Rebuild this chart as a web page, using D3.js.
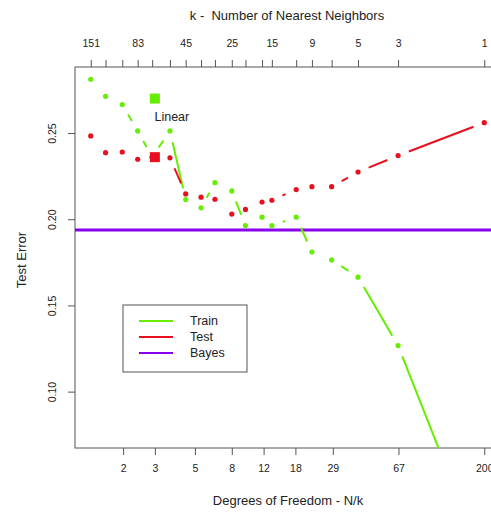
<!DOCTYPE html>
<html>
<head>
<meta charset="utf-8">
<script src="https://cdn.jsdelivr.net/npm/d3@7"></script>
<style>
  body { margin: 0; background: #fff; }
  svg { display: block; font-family: "Liberation Sans", Arial, sans-serif; }
  text { white-space: pre; }
</style>
</head>
<body>
<svg id="chart" width="491" height="512"></svg>
<script>
// training set size and neighbourhood sizes
const N = 200;
const kValues = [151, 125, 101, 83, 69, 55, 45, 37, 31, 25, 21, 17, 15, 11, 9, 7, 5, 3, 1];
const trainError = [0.2812, 0.2713, 0.2665, 0.2512, 0.2361, 0.2512, 0.2114, 0.2066, 0.2212, 0.2164,
                    0.1963, 0.2012, 0.1963, 0.2012, 0.1810, 0.1764, 0.1664, 0.1267, 0.0];
const testError = [0.2483, 0.2386, 0.2390, 0.2348, 0.2360, 0.2356, 0.2147, 0.2128, 0.2116, 0.2030,
                   0.2057, 0.2100, 0.2110, 0.2172, 0.2189, 0.2189, 0.2274, 0.2369, 0.2560];
const bayesError = 0.1938;
const linearDf = 3;
const linearTrain = 0.270;
const linearTest = 0.236;
const topLabels = [151, 83, 45, 25, 15, 9, 5, 3, 1];
const bottomTicks = [2, 3, 5, 8, 12, 18, 29, 67, 200];
const yTicks = [0.10, 0.15, 0.20, 0.25];

const colTrain = '#66ee00', colTest = '#e8101e', colBayes = '#8800ee';

const margin = {top: 67, right: -9, bottom: 64, left: 75};
const width = 491, height = 512;
const svg = d3.select('#chart');

const dfs = kValues.map(k => N / k);
const lo = Math.log(d3.min(dfs)), hi = Math.log(d3.max(dfs));
const pad = (hi - lo) * 0.04;
const x = d3.scaleLog()
  .domain([Math.exp(lo - pad), Math.exp(hi + pad)])
  .range([margin.left, width - margin.right]);
const y = d3.scaleLinear()
  .domain([0.0673, 0.2883])
  .range([height - margin.bottom, margin.top]);

const x0 = margin.left, x1 = width - margin.right;
const y0 = margin.top, y1 = height - margin.bottom;

svg.append('clipPath').attr('id', 'plotclip')
  .append('rect').attr('x', x0).attr('y', y0).attr('width', x1 - x0).attr('height', y1 - y0);

// frame
svg.append('rect')
  .attr('x', x0).attr('y', y0).attr('width', x1 - x0).attr('height', y1 - y0)
  .attr('fill', 'none').attr('stroke', '#555').attr('stroke-width', 1);

const axisStyle = g => {
  g.select('.domain').remove();
  g.selectAll('line').attr('stroke', '#555');
  g.selectAll('text').attr('fill', '#222').style('font-size', '10.5px');
};

// bottom axis: degrees of freedom
svg.append('g')
  .attr('transform', `translate(0,${y1})`)
  .call(d3.axisBottom(x).tickValues(bottomTicks).tickFormat(d3.format('d')).tickSize(7).tickPadding(10))
  .call(axisStyle);

// top axis: k
svg.append('g')
  .attr('transform', `translate(0,${y0})`)
  .call(d3.axisTop(x).tickValues(dfs).tickSize(7).tickPadding(13)
    .tickFormat((d, i) => topLabels.includes(kValues[i]) ? kValues[i] : ''))
  .call(axisStyle);

// left axis, labels turned parallel to the axis
svg.append('g')
  .attr('transform', `translate(${x0},0)`)
  .call(d3.axisLeft(y).tickValues(yTicks).tickFormat(d3.format('.2f')).tickSize(7))
  .call(axisStyle)
  .selectAll('text')
  .attr('x', 0).attr('y', 0).attr('dy', '0.35em')
  .attr('transform', 'translate(-23,0) rotate(-90)')
  .attr('text-anchor', 'middle');

// axis titles
svg.append('text').attr('x', 287).attr('y', 20).attr('text-anchor', 'middle')
  .style('font-size', '13px').attr('fill', '#222').text('k -  Number of Nearest Neighbors');
svg.append('text').attr('x', 288).attr('y', 505).attr('text-anchor', 'middle')
  .style('font-size', '13px').attr('fill', '#222').text('Degrees of Freedom - N/k');
svg.append('text').attr('transform', 'translate(26,260) rotate(-90)').attr('text-anchor', 'middle')
  .style('font-size', '13px').attr('fill', '#222').text('Test Error');

const plot = svg.append('g').attr('clip-path', 'url(#plotclip)');

// Bayes rate
plot.append('line')
  .attr('x1', x0).attr('x2', x1)
  .attr('y1', y(bayesError)).attr('y2', y(bayesError))
  .attr('stroke', colBayes).attr('stroke-width', 3);

// points joined by lines with a gap around each point
const gap = 11.5;
function drawSeries(values, color) {
  const pts = dfs.map((d, i) => [x(d), y(values[i])]);
  const segs = [];
  for (let i = 0; i < pts.length - 1; i++) {
    const [ax, ay] = pts[i], [bx, by] = pts[i + 1];
    const len = Math.hypot(bx - ax, by - ay);
    if (len <= 2 * gap) continue;
    const ux = (bx - ax) / len, uy = (by - ay) / len;
    segs.push([ax + ux * gap, ay + uy * gap, bx - ux * gap, by - uy * gap]);
  }
  plot.append('g').selectAll('line').data(segs).join('line')
    .attr('x1', s => s[0]).attr('y1', s => s[1])
    .attr('x2', s => s[2]).attr('y2', s => s[3])
    .attr('stroke', color).attr('stroke-width', 2);
  plot.append('g').selectAll('circle').data(pts).join('circle')
    .attr('cx', p => p[0]).attr('cy', p => p[1]).attr('r', 2.6)
    .attr('fill', color);
}
drawSeries(trainError, colTrain);
drawSeries(testError, colTest);

// linear regression result
const sq = 10;
plot.append('rect').attr('x', x(linearDf) - sq / 2).attr('y', y(linearTrain) - sq / 2)
  .attr('width', sq).attr('height', sq).attr('fill', colTrain);
plot.append('rect').attr('x', x(linearDf) - sq / 2).attr('y', y(linearTest) - sq / 2)
  .attr('width', sq).attr('height', sq).attr('fill', colTest);
svg.append('text').attr('x', x(linearDf) + 17).attr('y', y(linearTrain) + 22)
  .attr('text-anchor', 'middle').style('font-size', '12.5px').attr('fill', '#222').text('Linear');

// legend
const legend = svg.append('g').attr('transform', 'translate(123,305)');
legend.append('rect').attr('width', 124).attr('height', 67)
  .attr('fill', '#fff').attr('stroke', '#555').attr('stroke-width', 1);
const legendItems = [['Train', colTrain], ['Test', colTest], ['Bayes', colBayes]];
legendItems.forEach(([name, color], i) => {
  const ly = 16 + i * 16;
  legend.append('line').attr('x1', 16).attr('x2', 50).attr('y1', ly).attr('y2', ly)
    .attr('stroke', color).attr('stroke-width', 2);
  legend.append('text').attr('x', 67).attr('y', ly).attr('dy', '0.35em')
    .style('font-size', '12.5px').attr('fill', '#222').text(name);
});
</script>
</body>
</html>
